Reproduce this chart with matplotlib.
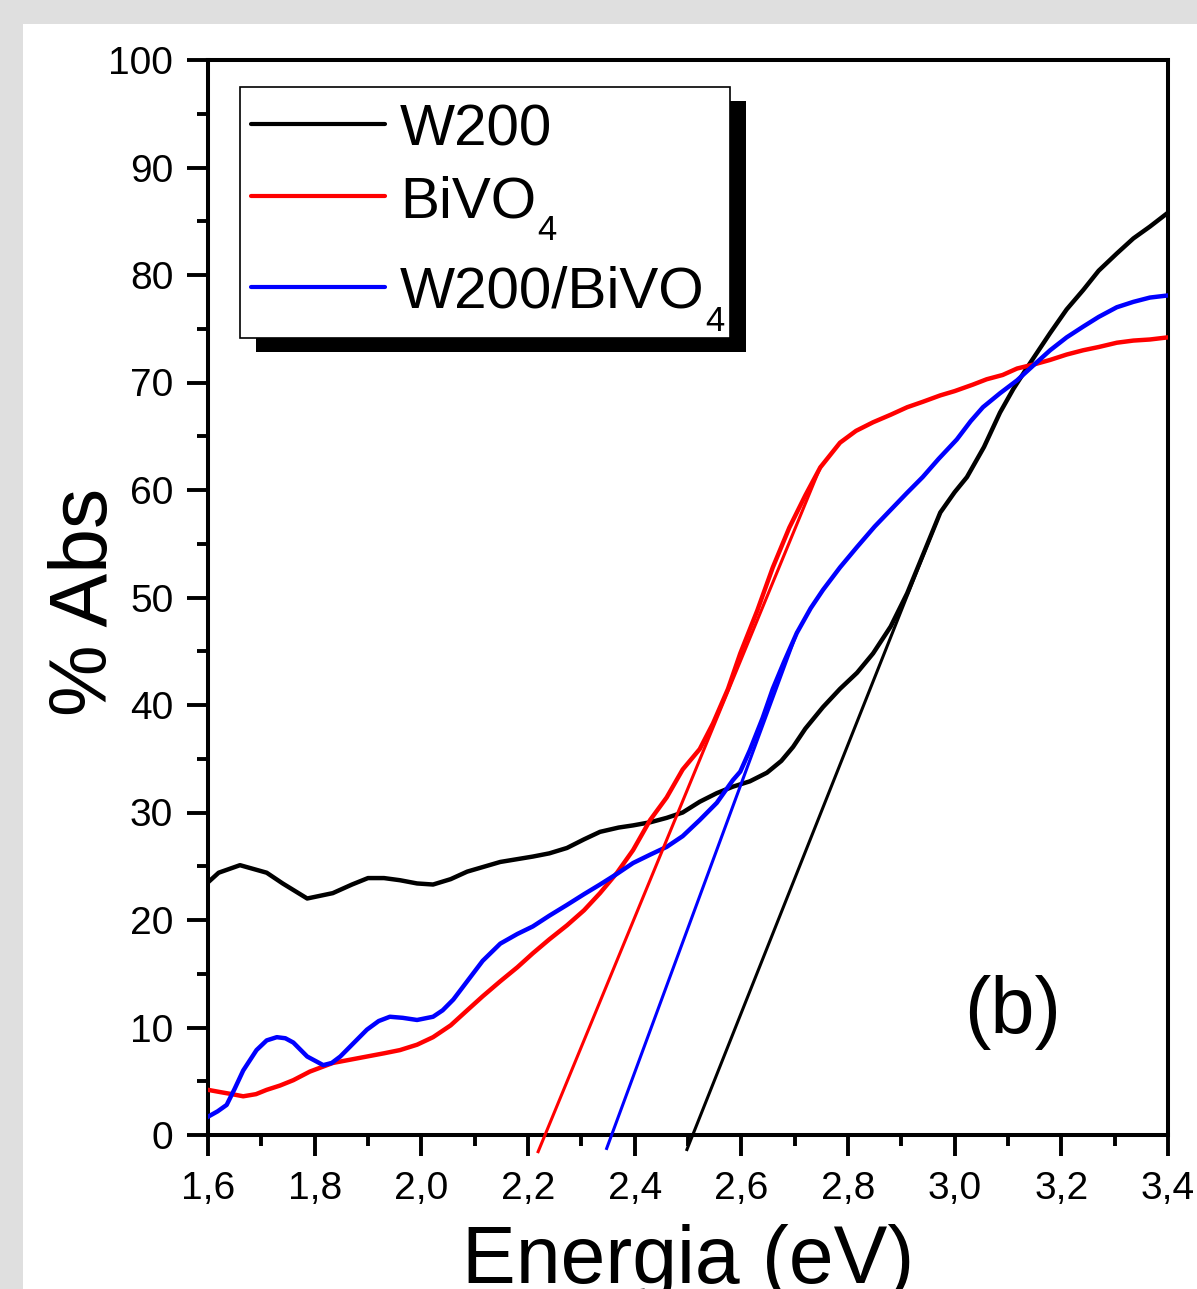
import matplotlib
matplotlib.use("Agg")
import matplotlib.pyplot as plt
from matplotlib.patches import Rectangle
from matplotlib.ticker import FixedLocator, MultipleLocator, FuncFormatter

plt.rcParams['font.family'] = ['Liberation Sans', 'DejaVu Sans']

# ---------------- data ----------------
w200_x = [1.600, 1.620, 1.660, 1.710, 1.740, 1.786, 1.834, 1.870, 1.900, 1.930,
          1.960, 1.992, 2.022, 2.055, 2.086, 2.148, 2.209, 2.240, 2.273, 2.305,
          2.335, 2.370, 2.397, 2.430, 2.460, 2.490, 2.522, 2.554, 2.584, 2.616,
          2.648, 2.675, 2.697, 2.720, 2.753, 2.785, 2.817, 2.847, 2.880, 2.911,
          2.940, 2.973, 3.000, 3.023, 3.055, 3.085, 3.110, 3.136, 3.179, 3.210,
          3.241, 3.270, 3.304, 3.335, 3.366, 3.400]
w200_y = [23.5, 24.4, 25.1, 24.4, 23.4, 22.0, 22.5, 23.3, 23.9, 23.9,
          23.7, 23.4, 23.3, 23.8, 24.5, 25.4, 25.9, 26.2, 26.7, 27.5,
          28.2, 28.6, 28.8, 29.1, 29.5, 30.0, 31.0, 31.8, 32.4, 32.9,
          33.7, 34.8, 36.1, 37.8, 39.8, 41.5, 43.0, 44.8, 47.3, 50.4,
          53.9, 57.9, 59.8, 61.2, 64.0, 67.2, 69.4, 71.4, 74.6, 76.8,
          78.6, 80.4, 82.0, 83.4, 84.5, 85.8]

bivo4_x = [1.600, 1.622, 1.645, 1.666, 1.690, 1.710, 1.735, 1.760, 1.791, 1.834,
           1.866, 1.898, 1.930, 1.960, 1.992, 2.022, 2.055, 2.086, 2.115, 2.148,
           2.180, 2.209, 2.240, 2.273, 2.305, 2.335, 2.367, 2.397, 2.429, 2.460,
           2.490, 2.522, 2.547, 2.575, 2.598, 2.630, 2.659, 2.690, 2.720, 2.748,
           2.785, 2.815, 2.847, 2.880, 2.911, 2.940, 2.973, 3.000, 3.034, 3.060,
           3.090, 3.117, 3.150, 3.179, 3.210, 3.241, 3.270, 3.304, 3.335, 3.366,
           3.400]
bivo4_y = [4.2, 4.0, 3.8, 3.6, 3.8, 4.2, 4.6, 5.1, 5.9, 6.7,
           7.0, 7.3, 7.6, 7.9, 8.4, 9.1, 10.2, 11.6, 12.9, 14.3,
           15.6, 16.9, 18.2, 19.5, 20.9, 22.5, 24.4, 26.5, 29.3, 31.4,
           34.0, 35.9, 38.3, 41.5, 44.8, 48.8, 52.8, 56.5, 59.5, 62.1,
           64.4, 65.5, 66.3, 67.0, 67.7, 68.2, 68.8, 69.2, 69.8, 70.3,
           70.7, 71.3, 71.7, 72.1, 72.6, 73.0, 73.3, 73.7, 73.9, 74.0,
           74.2]

mix_x = [1.600, 1.618, 1.635, 1.650, 1.666, 1.691, 1.710, 1.729, 1.745, 1.760,
         1.786, 1.816, 1.832, 1.848, 1.870, 1.898, 1.920, 1.941, 1.965, 1.992,
         2.022, 2.040, 2.060, 2.086, 2.115, 2.148, 2.180, 2.209, 2.240, 2.273,
         2.305, 2.335, 2.367, 2.397, 2.430, 2.460, 2.490, 2.522, 2.554, 2.584,
         2.598, 2.616, 2.640, 2.659, 2.680, 2.704, 2.730, 2.753, 2.785, 2.817,
         2.850, 2.879, 2.910, 2.940, 2.970, 3.004, 3.030, 3.053, 3.085, 3.117,
         3.150, 3.179, 3.210, 3.241, 3.270, 3.304, 3.335, 3.366, 3.400]
mix_y = [1.7, 2.2, 2.8, 4.3, 6.0, 7.9, 8.8, 9.1, 9.0, 8.6,
         7.3, 6.5, 6.7, 7.3, 8.4, 9.8, 10.6, 11.0, 10.9, 10.7,
         11.0, 11.6, 12.6, 14.3, 16.2, 17.8, 18.7, 19.4, 20.4, 21.4,
         22.4, 23.3, 24.3, 25.3, 26.1, 26.8, 27.8, 29.3, 30.9, 33.0,
         33.8, 35.8, 38.8, 41.5, 44.0, 46.7, 49.0, 50.7, 52.8, 54.7,
         56.6, 58.1, 59.7, 61.2, 62.9, 64.7, 66.4, 67.7, 69.0, 70.2,
         71.7, 73.0, 74.2, 75.2, 76.1, 77.0, 77.5, 77.9, 78.1]

# linear tangent fits (endpoints)
fit_bivo4_x = [2.219, 2.748]
fit_bivo4_y = [-1.55, 62.1]
fit_mix_x = [2.3475, 2.704]
fit_mix_y = [-1.25, 46.7]
fit_w200_x = [2.498, 2.973]
fit_w200_y = [-1.35, 57.9]

# legend labels: (main text, subscript)
labels = [('W200', ''), ('BiVO', '4'), ('W200/BiVO', '4')]
colors = ['#000000', '#ff0000', '#0000ff']

x_ticks = [1.6, 1.8, 2.0, 2.2, 2.4, 2.6, 2.8, 3.0, 3.2, 3.4]
y_ticks = [0, 10, 20, 30, 40, 50, 60, 70, 80, 90, 100]

# ---------------- figure ----------------
W, H = 1197, 1289
fig = plt.figure(figsize=(W / 100, H / 100), dpi=100, facecolor='#dfdfdf')
fig.patches.append(Rectangle((23 / W, 0), 1, 1 - 24 / H, transform=fig.transFigure,
                             facecolor='white', edgecolor='none', zorder=-10))

AX_L, AX_R, AX_T, AX_B = 208, 1168, 60, 1135
ax = fig.add_axes([AX_L / W, 1 - AX_B / H, (AX_R - AX_L) / W, (AX_B - AX_T) / H])
ax.set_facecolor('white')


def axc(px, py):
    """pixel position -> axes fraction"""
    return (px - AX_L) / (AX_R - AX_L), (AX_B - py) / (AX_B - AX_T)


lw = 3.2
series = [(w200_x, w200_y), (bivo4_x, bivo4_y), (mix_x, mix_y)]
for (sx, sy), c in zip(series, colors):
    ax.plot(sx, sy, color=c, lw=lw, zorder=3, solid_joinstyle='round')

ax.plot(fit_bivo4_x, fit_bivo4_y, color=colors[1], lw=2.2, clip_on=False, zorder=4)
ax.plot(fit_mix_x, fit_mix_y, color=colors[2], lw=2.2, clip_on=False, zorder=4)
ax.plot(fit_w200_x, fit_w200_y, color=colors[0], lw=2.2, clip_on=False, zorder=4)

ax.set_xlim(1.6, 3.4)
ax.set_ylim(0, 100)

ax.xaxis.set_major_locator(FixedLocator(x_ticks))
ax.xaxis.set_minor_locator(MultipleLocator(0.1))
ax.yaxis.set_major_locator(FixedLocator(y_ticks))
ax.yaxis.set_minor_locator(MultipleLocator(5))
ax.xaxis.set_major_formatter(FuncFormatter(lambda v, p: f"{v:.1f}".replace('.', ',')))
ax.yaxis.set_major_formatter(FuncFormatter(lambda v, p: f"{v:.0f}"))

for s in ax.spines.values():
    s.set_linewidth(2.9)

ax.tick_params(axis='both', which='major', direction='out', length=15, width=2.8,
               labelsize=28)
ax.tick_params(axis='both', which='minor', direction='out', length=8, width=2.8)
ax.tick_params(axis='x', which='major', pad=11)
ax.tick_params(axis='y', which='major', pad=10)

# axis labels
fig.text(688 / W, 1 - 1283 / H, 'Energia (eV)', ha='center', va='baseline', fontsize=58)
fig.text(107 / W, 1 - 602 / H, '% Abs', ha='center', va='baseline', rotation=90,
         fontsize=58, rotation_mode='anchor')

# panel label
ax.text(3.109, 9.5, '(b)', ha='center', va='baseline', fontsize=57)

# legend box with hard shadow
x0, y0 = axc(256, 352)
x1, y1 = axc(746, 101)
ax.add_patch(Rectangle((x0, y0), x1 - x0, y1 - y0, transform=ax.transAxes,
                       facecolor='black', edgecolor='none', zorder=6))
x0, y0 = axc(240, 338)
x1, y1 = axc(730, 87)
ax.add_patch(Rectangle((x0, y0), x1 - x0, y1 - y0, transform=ax.transAxes,
                       facecolor='white', edgecolor='black', lw=1.2, zorder=7))

row_line_y = [124, 196, 287]
row_base_y = [145, 217, 308]
for (main, sub), c, ly, by in zip(labels, colors, row_line_y, row_base_y):
    hx0, hy = axc(251, ly)
    hx1, _ = axc(385, ly)
    ax.plot([hx0, hx1], [hy, hy], transform=ax.transAxes, color=c, lw=3.0,
            solid_capstyle='round', zorder=8, clip_on=False)
    tx, ty = axc(400, by)
    t = ax.text(tx, ty, main, transform=ax.transAxes, ha='left', va='baseline',
                fontsize=42, zorder=9)
    if sub:
        ax.annotate(sub, xy=(1, 0), xycoords=t, xytext=(0.5, -8),
                    textcoords='offset points', ha='left', va='baseline',
                    fontsize=25, zorder=9)

fig.savefig('out.png', dpi=100)
